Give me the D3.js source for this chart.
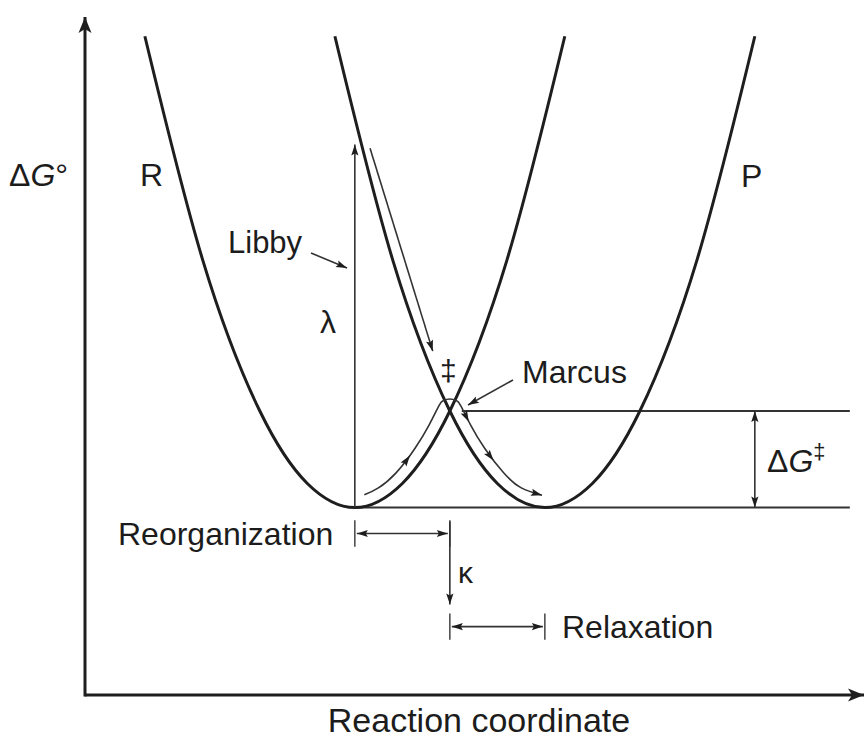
<!DOCTYPE html>
<html>
<head>
<meta charset="utf-8">
<script src="https://cdn.jsdelivr.net/npm/d3@7"></script>
<style>
  body { margin: 0; background: #fff; }
  svg { display: block; font-family: 'Liberation Sans', Arial, Helvetica, sans-serif; }
  text { fill: #1c1c1c; }
</style>
</head>
<body>
<div id="chart"></div>
<script>
var w = 868, h = 742;

// reaction coordinate q (R minimum at 0, P minimum at 1) and free energy in units of lambda
var xDomain = [-1.42, 2.69];
var yDomain = [-0.485, 1.275];

// the two parabolas as [q, G]
var curveR = [[-1.105, 1.22], [-0.8, 0.64], [-0.5, 0.25], [-0.25, 0.0625], [0, 0], [0.25, 0.0625], [0.5, 0.25], [0.8, 0.64], [1.105, 1.22]];
var curveP = [[-0.105, 1.22], [0.2, 0.64], [0.5, 0.25], [0.75, 0.0625], [1, 0], [1.25, 0.0625], [1.5, 0.25], [1.8, 0.64], [2.105, 1.22]];

// thin path over the crossing (Marcus) and the vertical jump path (Libby)
var marcusPath = [[0.05, 0.033], [0.124, 0.051], [0.217, 0.09], [0.316, 0.153], [0.392, 0.215], [0.443, 0.264], [0.466, 0.277], [0.5, 0.281],
                  [0.534, 0.277], [0.557, 0.264], [0.608, 0.215], [0.684, 0.153], [0.783, 0.09], [0.876, 0.051], [0.985, 0.032]];
var marcusArrowAt = [0.29, 0.6, 0.73];
var libbyPath = [[0.08, 0.93], [0.41, 0.405]];
var lambdaTop = 0.94;

// energy levels: ground state and crossing (lambda / 4)
var levels = [0, 0.25];
var levelStart = [0, 0.563];
var levelEnd = 2.605;
var barrierQ = 2.105;

// brackets below the wells
var reorgSpan = [0, 0.5], reorgG = -0.067;
var relaxSpan = [0.5, 1.0], relaxG = -0.308;
var kappaSpan = [-0.036, -0.251];
var tickHalf = 0.034;

var x = d3.scaleLinear().domain(xDomain).range([85, 866]);
var y = d3.scaleLinear().domain(yDomain).range([695, 15]);

var svg = d3.select('#chart').append('svg')
  .attr('width', w)
  .attr('height', h);

var ink = '#1e1e1e';

// arrow markers
var defs = svg.append('defs');
defs.append('marker')
  .attr('id', 'tip')
  .attr('markerUnits', 'userSpaceOnUse')
  .attr('viewBox', '-12 -5 12 10')
  .attr('refX', 0).attr('refY', 0)
  .attr('markerWidth', 12).attr('markerHeight', 10)
  .attr('orient', 'auto-start-reverse')
  .append('path')
    .attr('d', 'M0,0L-11,-3.6L-9,0L-11,3.6Z')
    .attr('fill', ink);

defs.append('marker')
  .attr('id', 'axisTip')
  .attr('markerUnits', 'userSpaceOnUse')
  .attr('viewBox', '-17 -7 17 14')
  .attr('refX', 0).attr('refY', 0)
  .attr('markerWidth', 17).attr('markerHeight', 14)
  .attr('orient', 'auto')
  .append('path')
    .attr('d', 'M0,0L-16,-6.5L-12,0L-16,6.5Z')
    .attr('fill', ink);

// axes
svg.append('line')
  .attr('x1', x.range()[0]).attr('y1', y.range()[0])
  .attr('x2', x.range()[1] - 2).attr('y2', y.range()[0])
  .attr('stroke', ink).attr('stroke-width', 3)
  .attr('marker-end', 'url(#axisTip)');

svg.append('line')
  .attr('x1', x.range()[0]).attr('y1', y.range()[0] + 1.5)
  .attr('x2', x.range()[0]).attr('y2', y.range()[1] + 2)
  .attr('stroke', ink).attr('stroke-width', 3)
  .attr('marker-end', 'url(#axisTip)');

// energy levels
svg.selectAll('.level')
  .data(levels)
  .enter()
  .append('line')
    .attr('class', 'level')
    .attr('x1', function(d, i) { return x(levelStart[i]); })
    .attr('x2', x(levelEnd))
    .attr('y1', function(d) { return y(d); })
    .attr('y2', function(d) { return y(d); })
    .attr('stroke', '#333')
    .attr('stroke-width', 2);

var line = d3.line()
  .x(function(d) { return x(d[0]); })
  .y(function(d) { return y(d[1]); });

// parabolas
svg.selectAll('.well')
  .data([curveR, curveP])
  .enter()
  .append('path')
    .attr('class', 'well')
    .attr('d', line.curve(d3.curveNatural))
    .attr('fill', 'none')
    .attr('stroke', ink)
    .attr('stroke-width', 3);

// lambda arrow
svg.append('line')
  .attr('x1', x(0)).attr('y1', y(0))
  .attr('x2', x(0)).attr('y2', y(lambdaTop))
  .attr('stroke', '#333').attr('stroke-width', 1.6)
  .attr('marker-end', 'url(#tip)');

// Libby path
svg.append('path')
  .attr('d', d3.line().x(function(d) { return x(d[0]); }).y(function(d) { return y(d[1]); })(libbyPath))
  .attr('fill', 'none')
  .attr('stroke', '#333').attr('stroke-width', 1.6)
  .attr('marker-end', 'url(#tip)');

// Marcus path
var mPath = svg.append('path')
  .attr('d', d3.line().x(function(d) { return x(d[0]); }).y(function(d) { return y(d[1]); }).curve(d3.curveNatural)(marcusPath))
  .attr('fill', 'none')
  .attr('stroke', '#333').attr('stroke-width', 1.6)
  .attr('marker-end', 'url(#tip)');

var mNode = mPath.node();
var mLen = mNode.getTotalLength();

function lengthAtX(px) {
  var lo = 0, hi = mLen;
  for (var k = 0; k < 40; k++) {
    var mid = (lo + hi) / 2;
    if (mNode.getPointAtLength(mid).x < px) lo = mid; else hi = mid;
  }
  return lo;
}

svg.selectAll('.mid-arrow')
  .data(marcusArrowAt)
  .enter()
  .append('path')
    .attr('class', 'mid-arrow')
    .attr('d', 'M0,0L-11,-3.6L-9,0L-11,3.6Z')
    .attr('fill', ink)
    .attr('transform', function(d) {
      var l = lengthAtX(x(d));
      var p = mNode.getPointAtLength(l);
      var a = mNode.getPointAtLength(Math.max(0, l - 2));
      var b = mNode.getPointAtLength(Math.min(mLen, l + 2));
      var ang = Math.atan2(b.y - a.y, b.x - a.x) * 180 / Math.PI;
      return 'translate(' + p.x + ',' + p.y + ') rotate(' + ang + ')';
    });

// pointers for Libby and Marcus labels
svg.append('line')
  .attr('x1', 311).attr('y1', 253)
  .attr('x2', 347).attr('y2', 268)
  .attr('stroke', '#333').attr('stroke-width', 1.6)
  .attr('marker-end', 'url(#tip)');

svg.append('line')
  .attr('x1', 513).attr('y1', 380)
  .attr('x2', 468).attr('y2', 405)
  .attr('stroke', '#333').attr('stroke-width', 1.6)
  .attr('marker-end', 'url(#tip)');

// barrier double arrow
svg.append('line')
  .attr('x1', x(barrierQ)).attr('y1', y(levels[0]))
  .attr('x2', x(barrierQ)).attr('y2', y(levels[1]))
  .attr('stroke', '#333').attr('stroke-width', 1.6)
  .attr('marker-start', 'url(#tip)')
  .attr('marker-end', 'url(#tip)');

// brackets
function bracket(span, g) {
  span.forEach(function(q) {
    svg.append('line')
      .attr('x1', x(q)).attr('x2', x(q))
      .attr('y1', y(g + tickHalf)).attr('y2', y(g - tickHalf))
      .attr('stroke', '#444').attr('stroke-width', 1.5);
  });
  svg.append('line')
    .attr('x1', x(span[0]) + 2).attr('x2', x(span[1]) - 2)
    .attr('y1', y(g)).attr('y2', y(g))
    .attr('stroke', '#333').attr('stroke-width', 1.6)
    .attr('marker-start', 'url(#tip)')
    .attr('marker-end', 'url(#tip)');
}
bracket(reorgSpan, reorgG);
bracket(relaxSpan, relaxG);

// kappa arrow
svg.append('line')
  .attr('x1', x(0.5)).attr('x2', x(0.5))
  .attr('y1', y(kappaSpan[0])).attr('y2', y(kappaSpan[1]))
  .attr('stroke', '#333').attr('stroke-width', 1.6)
  .attr('marker-end', 'url(#tip)');

// labels
function label(tx, ty, str, size) {
  return svg.append('text')
    .attr('x', tx).attr('y', ty)
    .attr('font-size', size)
    .text(str);
}

var dg0 = svg.append('text').attr('x', 9).attr('y', 186).attr('font-size', 32);
dg0.append('tspan').text('Δ');
dg0.append('tspan').attr('font-style', 'italic').text('G');
dg0.append('tspan').text('°');

label(140, 186, 'R', 32);
label(741, 187, 'P', 32);
label(228, 253, 'Libby', 31);
label(320, 333, 'λ', 32);
label(440, 381, '‡', 30);
label(522, 383, 'Marcus', 32);
label(118, 545, 'Reorganization', 32);
label(458, 583, 'κ', 30);
label(562, 638, 'Relaxation', 32);

var dgb = svg.append('text').attr('x', 767).attr('y', 472).attr('font-size', 32);
dgb.append('tspan').text('Δ');
dgb.append('tspan').attr('font-style', 'italic').text('G');
dgb.append('tspan').attr('font-size', 22).attr('dy', -13).text('‡');

svg.append('text')
  .attr('x', 479).attr('y', 732)
  .attr('text-anchor', 'middle')
  .attr('font-size', 34)
  .text('Reaction coordinate');
</script>
</body>
</html>
